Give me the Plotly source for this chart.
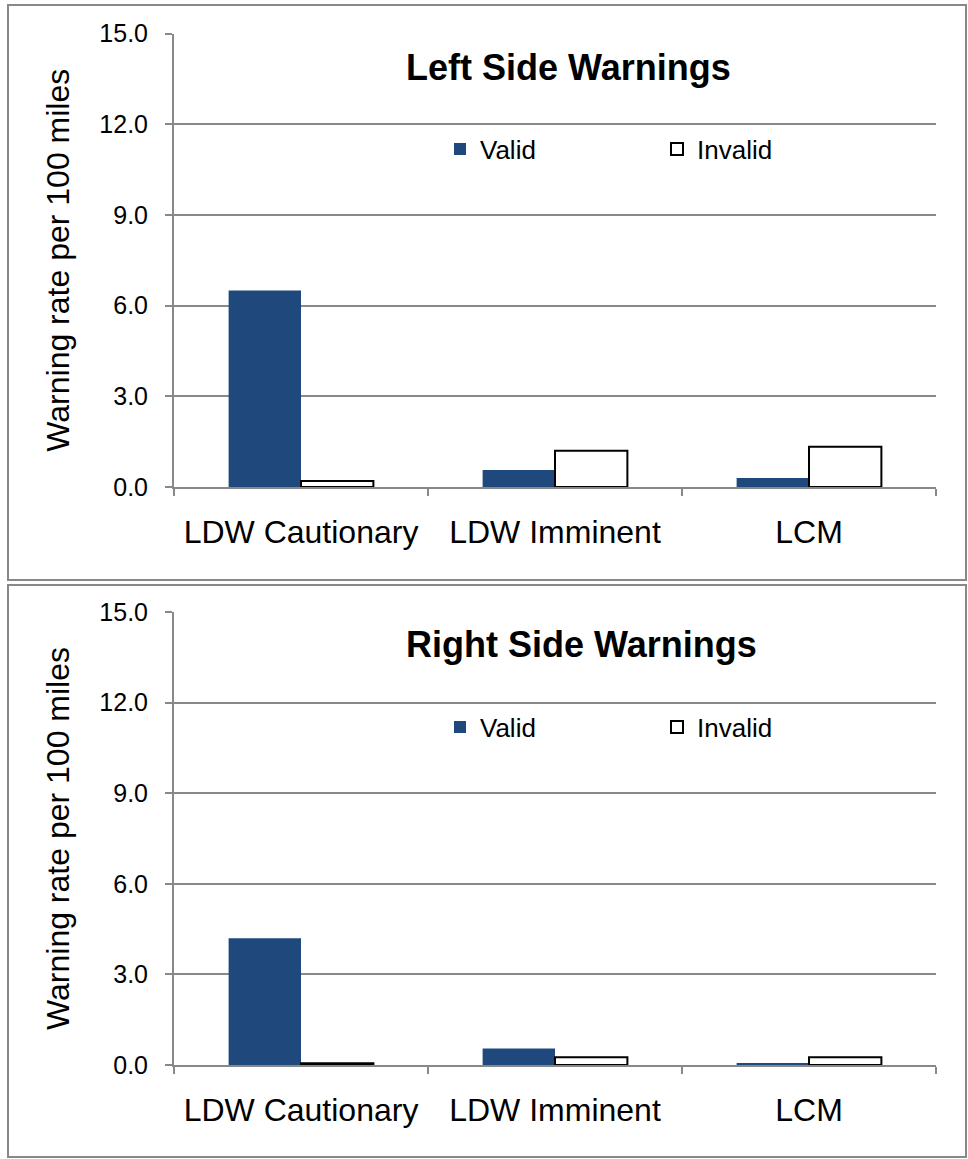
import plotly.graph_objects as go
from plotly.subplots import make_subplots

# Warning rates per 100 miles, by warning type and validity
categories = ["LDW Cautionary", "LDW Imminent", "LCM"]
left_valid = [6.5, 0.56, 0.3]
left_invalid = [0.2, 1.2, 1.33]
right_valid = [4.2, 0.55, 0.07]
right_invalid = [0.06, 0.26, 0.26]
panel_titles = ["Left Side Warnings", "Right Side Warnings"]
y_ticks = [0, 3, 6, 9, 12, 15]
y_tick_text = ["0.0", "3.0", "6.0", "9.0", "12.0", "15.0"]

W, H = 968, 1159
ML, MR, MT, MB = 174, 32, 33, 94
PW = W - ML - MR
PH = H - MT - MB


def px_x(p):
    return (p - ML) / PW


def px_y(p):
    return (H - MB - p) / PH


FONT = "Liberation Sans, Arial, sans-serif"
GRAY = "#888888"
NAVY = "#1F497D"

fig = make_subplots(rows=2, cols=1, vertical_spacing=0.1)

# subplot vertical domains (plot area top/bottom in pixels)
domains = [(33.5, 487), (612, 1065)]
fig.update_layout(
    yaxis=dict(domain=[px_y(domains[0][1]), px_y(domains[0][0])]),
    yaxis2=dict(domain=[px_y(domains[1][1]), px_y(domains[1][0])]),
)

series = [(left_valid, left_invalid), (right_valid, right_invalid)]
for i, (valid, invalid) in enumerate(series):
    row = i + 1
    leg = "legend" if i == 0 else "legend2"
    fig.add_trace(go.Bar(x=categories, y=valid, name="Valid",
                         marker=dict(color=NAVY, line=dict(width=0)),
                         legend=leg), row=row, col=1)
    fig.add_trace(go.Bar(x=categories, y=invalid, name="Invalid",
                         marker=dict(color="white", line=dict(color="black", width=2)),
                         legend=leg), row=row, col=1)

axis_common = dict(showline=True, linecolor=GRAY, linewidth=2,
                   ticks="outside", ticklen=7, tickwidth=2, tickcolor=GRAY)
for r in (1, 2):
    fig.update_xaxes(axis_common, tickson="boundaries",
                     tickfont=dict(family=FONT, size=32, color="black"),
                     ticklabelstandoff=16, row=r, col=1)
    fig.update_yaxes(axis_common, range=[0, 15], tickvals=y_ticks, ticktext=y_tick_text,
                     showgrid=True, gridcolor=GRAY, gridwidth=2, zeroline=False,
                     tickfont=dict(family=FONT, size=25, color="black"),
                     ticklabelstandoff=12,
                     title=dict(text="Warning rate per 100 miles",
                                font=dict(family=FONT, size=32, color="black"),
                                standoff=20),
                     row=r, col=1)

# panel titles
title_pos = [(568, 68), (581, 645)]
for t, (cx, cy) in zip(panel_titles, title_pos):
    fig.add_annotation(text="<b>%s</b>" % t, xref="paper", yref="paper",
                       x=px_x(cx), y=px_y(cy), xanchor="center", yanchor="middle",
                       showarrow=False, font=dict(family=FONT, size=36, color="black"))

# panel frames
frames = [(8, 5, 966, 580), (8, 585, 966, 1157)]
for x0, y0, x1, y1 in frames:
    fig.add_shape(type="rect", xref="paper", yref="paper",
                  x0=px_x(x0), x1=px_x(x1), y0=px_y(y1), y1=px_y(y0),
                  line=dict(color=GRAY, width=2), fillcolor="rgba(0,0,0,0)", layer="below")

legend_common = dict(orientation="h", xanchor="left", yanchor="middle",
                     entrywidth=172, bgcolor="rgba(0,0,0,0)", borderwidth=0,
                     font=dict(family=FONT, size=26, color="black"),
                     traceorder="normal")
fig.update_layout(
    legend=dict(legend_common, x=px_x(440), y=px_y(149)),
    legend2=dict(legend_common, x=px_x(440), y=px_y(727)),
)

fig.update_layout(
    width=W, height=H,
    margin=dict(l=ML, r=MR, t=MT, b=MB),
    paper_bgcolor="white", plot_bgcolor="white",
    barmode="group", bargap=0.43, bargroupgap=0,
    showlegend=True,
    font=dict(family=FONT, color="black"),
)

fig.write_html("out.html")
